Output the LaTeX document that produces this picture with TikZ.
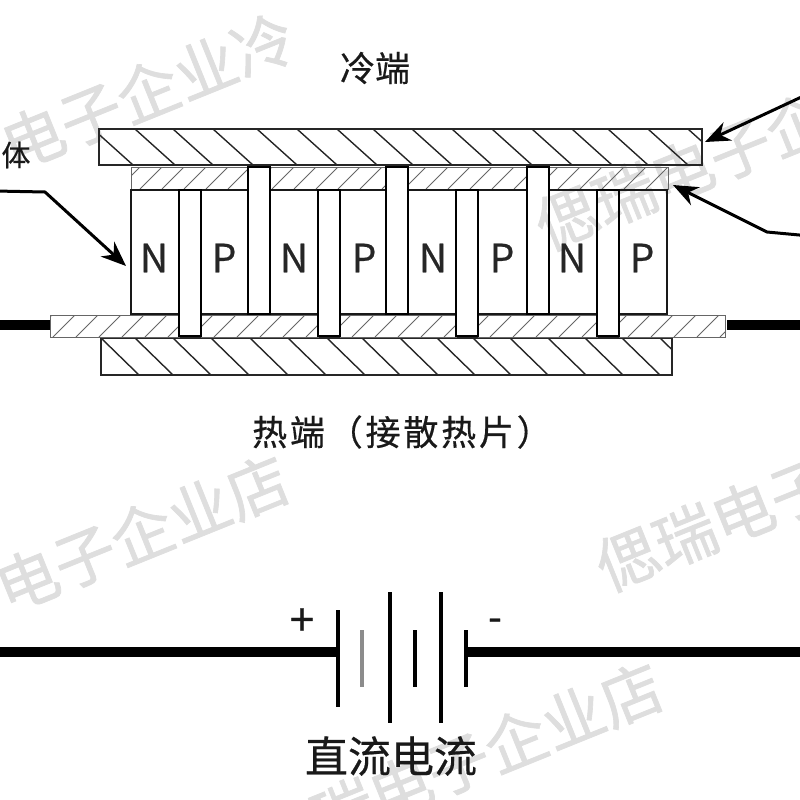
\documentclass[tikz,border=0pt]{standalone}
\usepackage{fontspec}
\setmainfont{Noto Sans CJK SC}[FakeBold=0.5]
\newfontfamily\wmfont{Noto Sans CJK SC}[FakeBold=1]
\newfontfamily\spacedfont{Noto Sans CJK SC}[FakeBold=0.5,LetterSpace=8]
\usetikzlibrary{arrows.meta}
\newcommand{\fsz}[1]{\fontsize{#1}{#1}\selectfont}
\newcommand{\hatchseg}[5]{% x1,y1,x2,y2,step
  \begin{scope}
    \clip (#1,#2) rectangle (#3,#4);
    \foreach \k in {0,...,34} {
      \draw[condhatch] ({30+\k*#5},#4) -- ++(22,{-(#4-#2)});
    }
  \end{scope}
  \draw[condedge] (#1,#2) rectangle (#3,#4);
}
\tikzset{
  wmark/.style={text=black!13,rotate=22,inner sep=0,font=\wmfont\fsz{62}},
  plate/.style={draw=black!85,line width=1.6pt},
  platehatch/.style={draw=black!85,line width=1.4pt},
  condhatch/.style={draw=black!60,line width=1pt},
  condedge/.style={draw=black!60,line width=1pt},
  legbox/.style={draw=black!90,line width=1.8pt},
  pillar/.style={draw=black,line width=2.4pt},
  wire/.style={draw=black,line width=10.5pt},
  cell/.style={draw=black,line width=3.2pt},
  cellthin/.style={draw=black!45,line width=3.2pt},
  callout/.style={draw=black,line width=3pt,-{Stealth[length=25pt,width=20pt]}},
  lbl/.style={inner sep=0,text=black!90},
  pn/.style={inner sep=0,text=black!85,font=\fsz{39}},
}
\begin{document}
\begin{tikzpicture}[x=1pt,y=-1pt]
\useasboundingbox (0,0) rectangle (800,800);
\fill[white] (0,0) rectangle (800,800);
\clip (0,0) rectangle (800,800);

% watermarks
\node[wmark] (wa) at (148,91) {电子企业冷};
\node[wmark] (wb) at (142,533) {电子企业店};
\node[wmark] (wc) at (682,171) {偲瑞电子企};
\node[wmark] (wd) at (714,524) {偲瑞电子};
\node[wmark] (we) at (487,752) {瑞电子企业店};

% top plate
\begin{scope}
  \clip (99,129) rectangle (702,165);
  \foreach \x in {93,135,173,213,257,297,337,373,412,452,492,532,572,608,648,688}
    \draw[platehatch] (\x,129) -- ++(40,36);
\end{scope}
\draw[plate] (99,129) rectangle (702,165);

% bottom plate
\begin{scope}
  \clip (101,338) rectangle (672,375);
  \foreach \x in {101,135,173,211,250,288,327,362,400,437,473,510,548,585,622,660}
    \draw[platehatch] (\x,338) -- ++(38,37);
\end{scope}
\draw[plate] (101,338) rectangle (672,375);

% upper conductor segments
\hatchseg{131}{167}{248}{189}{22}
\hatchseg{270}{167}{386}{189}{22}
\hatchseg{408}{167}{527}{189}{22}
\hatchseg{549}{167}{668}{189}{22}

% lower conductor segments
\hatchseg{50}{315}{179}{337}{23}
\hatchseg{201}{315}{318}{337}{23}
\hatchseg{340}{315}{456}{337}{23}
\hatchseg{478}{315}{597}{337}{23}
\hatchseg{619}{315}{725}{337}{23}

% thermoelectric legs
\foreach \a/\b in {131/179,201/248,270/318,340/386,408/456,478/527,549/597,619/667}
  \draw[legbox] (\a,190) rectangle (\b,314);
\foreach \a/\u/\b/\v in {179/190/201/336,248/167/270/314,318/190/340/336,386/167/408/314,456/190/478/336,527/167/549/314,597/190/619/336}
  \draw[pillar] (\a,\u) rectangle (\b,\v);

% leg letters
\node[pn] (n1) at (154,258) {N};
\node[pn] (p1) at (224,258) {P};
\node[pn] (n2) at (294,258) {N};
\node[pn] (p2) at (364,258) {P};
\node[pn] (n3) at (433,258) {N};
\node[pn] (p3) at (502,258) {P};
\node[pn] (n4) at (572,258) {N};
\node[pn] (p4) at (642,258) {P};

% lead wires
\coordinate (wl) at (0,325);
\coordinate (wle) at (50,325);
\coordinate (wr) at (800,325);
\coordinate (wre) at (727,325);
\draw[wire] (wl) -- (wle);
\draw[wire] (wre) -- (wr);

% callouts
\coordinate (c1a) at (-5,191);
\coordinate (c1b) at (45,192);
\coordinate (c1t) at (126,266);
\coordinate (c2a) at (810,93);
\coordinate (c2t) at (705,142);
\coordinate (c3a) at (810,236);
\coordinate (c3b) at (767,232);
\coordinate (c3t) at (673,185);
\draw[callout] (c1a) -- (c1b) -- (c1t);
\draw[callout] (c2a) -- (c2t);
\draw[callout] (c3a) -- (c3b) -- (c3t);

% labels
\node[lbl,font=\fsz{35}] (cold) at (375,68) {冷端};
\node[lbl,font=\fsz{29}] (ti) at (16,155) {体};
\node[lbl,font=\spacedfont\fsz{35},anchor=west] (hot) at (252,432) {热端（接散热片）};

% battery
\coordinate (bl) at (0,652);
\coordinate (bla) at (338,652);
\coordinate (br) at (800,652);
\coordinate (bra) at (466,652);
\draw[wire] (bl) -- (bla);
\draw[wire] (bra) -- (br);
\coordinate (b1a) at (338,610); \coordinate (b1b) at (338,707);
\coordinate (b2a) at (362,630); \coordinate (b2b) at (362,687);
\coordinate (b3a) at (390,592); \coordinate (b3b) at (390,723);
\coordinate (b4a) at (415,630); \coordinate (b4b) at (415,687);
\coordinate (b5a) at (441,592); \coordinate (b5b) at (441,723);
\coordinate (b6a) at (466,630); \coordinate (b6b) at (466,687);
\draw[cell] (b1a) -- (b1b);
\draw[cellthin] (b2a) -- (b2b);
\draw[cell] (b3a) -- (b3b);
\draw[cell] (b4a) -- (b4b);
\draw[cell] (b5a) -- (b5b);
\draw[cell] (b6a) -- (b6b);
\node[lbl,font=\fsz{44}] (plus) at (302,622) {+};
\node[lbl,font=\fsz{40}] (minus) at (495,625) {-};
\node[lbl,font=\fsz{43}] (dc) at (391,756) {直流电流};
\end{tikzpicture}
\end{document}
